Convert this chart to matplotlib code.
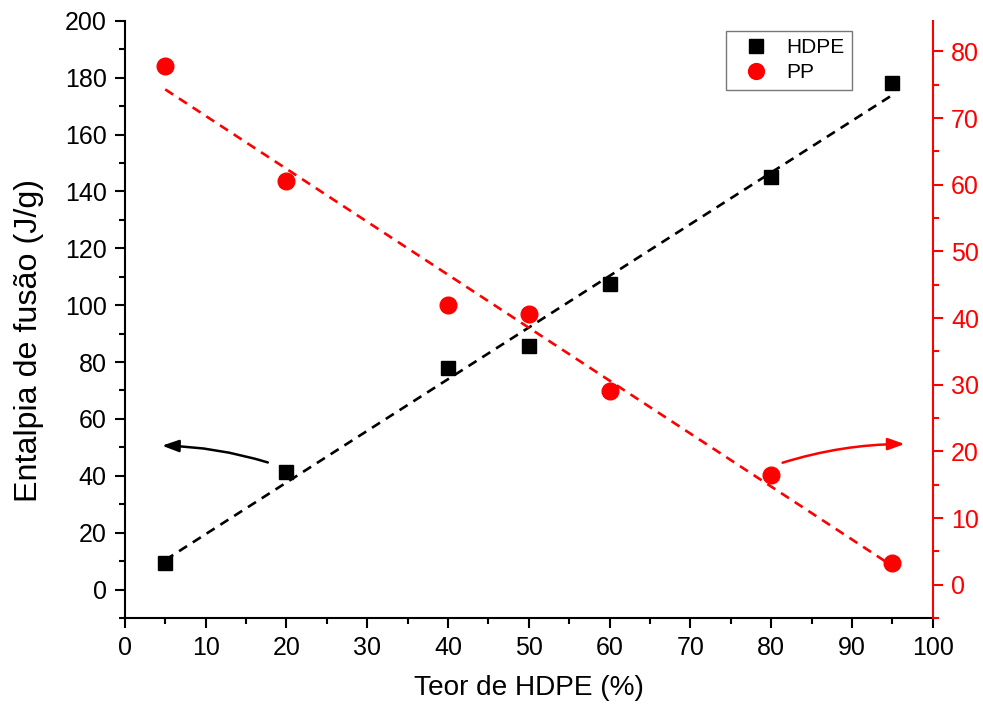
import numpy as np
import matplotlib
matplotlib.use("Agg")
import matplotlib.pyplot as plt
from matplotlib.ticker import MultipleLocator

plt.rcParams['font.family'] = ['Liberation Sans', 'DejaVu Sans']

# Data
teor_hdpe = [5, 20, 40, 50, 60, 80, 95]
hdpe_entalpia = [9.3, 41.5, 78.0, 85.8, 107.5, 145.0, 178.0]
pp_entalpia = [77.8, 60.6, 42.0, 40.6, 29.1, 16.5, 3.25]

xlabel = "Teor de HDPE (%)"
ylabel = "Entalpia de fusão (J/g)"
series_names = ["HDPE", "PP"]

# annotation arrows (tail -> head), in data coords of each axis
black_arrow_tail = (17.7, 44.7)
black_arrow_head = (4.6, 50.6)
red_arrow_tail = (81.4, 18.3)
red_arrow_head = (96.5, 21.1)

fig = plt.figure(figsize=(9.83, 7.06), dpi=100)
ax = fig.add_axes([0.127, 0.1246, 0.822, 0.846])
ax2 = ax.twinx()

x = np.array(teor_hdpe, dtype=float)
yh = np.array(hdpe_entalpia)
yp = np.array(pp_entalpia)

# linear fits
ph = np.polyfit(x, yh, 1)
pp = np.polyfit(x, yp, 1)
xf = np.array([x.min(), x.max()])

ax.plot(xf, np.polyval(ph, xf), color='black', lw=1.9, dashes=(3.6, 2.6), zorder=2)
h1, = ax.plot(x, yh, linestyle='none', marker='s', ms=10.5, color='black',
              label=series_names[0], zorder=3)
ax2.plot(xf, np.polyval(pp, xf), color='red', lw=1.9, dashes=(3.6, 2.6), zorder=2)
h2, = ax2.plot(x, yp, linestyle='none', marker='o', ms=12, color='red',
               label=series_names[1], zorder=3)

ax.set_xlim(0, 100)
ax.set_ylim(-10, 200)
ax2.set_ylim(-5, 84.6)

ax.xaxis.set_major_locator(MultipleLocator(10))
ax.xaxis.set_minor_locator(MultipleLocator(5))
ax.yaxis.set_major_locator(MultipleLocator(20))
ax.yaxis.set_minor_locator(MultipleLocator(10))
ax2.yaxis.set_major_locator(MultipleLocator(10))
ax2.yaxis.set_minor_locator(MultipleLocator(5))

for a in (ax, ax2):
    a.spines['top'].set_visible(False)
    for s in a.spines.values():
        s.set_linewidth(1.5)

ax.spines['right'].set_visible(False)
ax2.spines['left'].set_visible(False)
ax2.spines['bottom'].set_visible(False)
ax2.spines['right'].set_color('red')

ax.tick_params(axis='both', which='major', direction='out', length=7, width=1.5,
               labelsize=18, pad=6)
ax.tick_params(axis='both', which='minor', direction='out', length=4, width=1.5)
ax2.tick_params(axis='y', which='major', direction='out', length=7, width=1.5,
                labelsize=18, pad=6, colors='red')
ax2.tick_params(axis='y', which='minor', direction='out', length=4, width=1.5,
                colors='red')

ax.set_xlabel(xlabel, fontsize=20.2, labelpad=11)
ax.set_ylabel(ylabel, fontsize=23.2)
ax.yaxis.set_label_coords(-0.100, 0.464)

# arrows
ax.annotate("", xy=black_arrow_head, xytext=black_arrow_tail,
            arrowprops=dict(arrowstyle="-|>,head_length=1.0,head_width=0.36",
                            connectionstyle="arc3,rad=0.07", color='black',
                            lw=1.8, mutation_scale=10, shrinkA=0, shrinkB=0))
ax2.annotate("", xy=red_arrow_head, xytext=red_arrow_tail,
             arrowprops=dict(arrowstyle="-|>,head_length=1.0,head_width=0.36",
                             connectionstyle="arc3,rad=-0.075", color='red',
                             lw=1.8, mutation_scale=10, shrinkA=0, shrinkB=0))

leg = ax2.legend(handles=[h1, h2], loc='upper left', bbox_to_anchor=(0.744, 0.983),
                 borderaxespad=0, fontsize=15, frameon=True, fancybox=False,
                 edgecolor='#555555', handlelength=2.2, handletextpad=0.33,
                 borderpad=0.35, labelspacing=0.3, markerscale=0.95)
leg.get_frame().set_linewidth(1.0)

fig.savefig("out.png", dpi=100)
